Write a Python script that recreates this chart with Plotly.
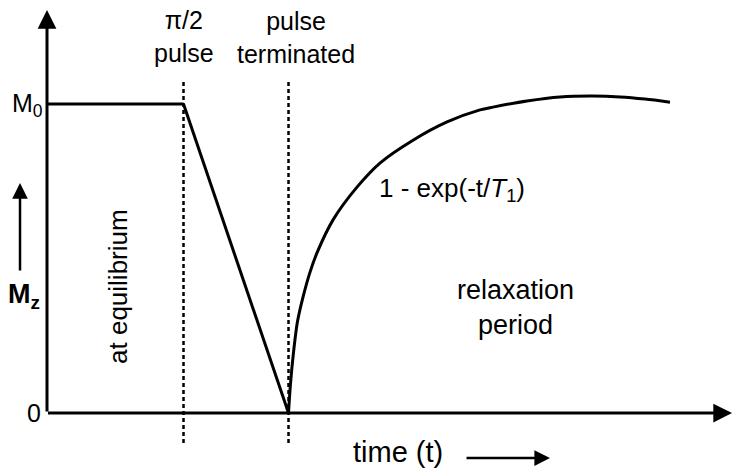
import plotly.graph_objects as go

# Longitudinal magnetisation Mz (in units of M0) versus time (arbitrary units)
eq_t = [0.0, 1.3]            # equilibrium before the pulse
eq_mz = [1.0, 1.0]
pulse_t = [1.3, 2.3]         # pi/2 pulse tips Mz down to zero
pulse_mz = [1.0, 0.0]
# relaxation back towards M0 after the pulse is switched off
relax_t = [2.30, 2.318, 2.345, 2.385, 2.438, 2.505, 2.571, 2.724, 2.952, 3.171,
           3.486, 3.810, 4.124, 4.248, 4.571, 4.886, 5.200, 5.457, 5.695, 5.933]
relax_mz = [0.0, 0.091, 0.188, 0.295, 0.375, 0.456, 0.518, 0.625, 0.731, 0.809,
            0.883, 0.942, 0.981, 0.990, 1.010, 1.023, 1.026, 1.023, 1.016, 1.006]
marker_times = [1.3, 2.3]    # pulse on / pulse off
marker_span = [-0.097, 1.078]

X_RANGE = [-0.4476, 6.533]
Y_RANGE = [-0.1812, 1.3366]
FONT = "Liberation Sans, Arial, sans-serif"
FS = 25

fig = go.Figure()
for t in marker_times:
    fig.add_trace(go.Scatter(x=[t, t], y=marker_span, mode="lines",
                             line=dict(color="black", width=2.5, dash="4px,3px")))
for xs, ys in [(eq_t, eq_mz), (pulse_t, pulse_mz)]:
    fig.add_trace(go.Scatter(x=xs, y=ys, mode="lines",
                             line=dict(color="black", width=3)))
fig.add_trace(go.Scatter(x=relax_t, y=relax_mz, mode="lines",
                         line=dict(color="black", width=3, shape="spline", smoothing=0.8)))

def arrow(x0, y0, x1, y1, w=2.5, size=1.2):
    fig.add_annotation(x=x1, y=y1, ax=x0, ay=y0, xref="x", yref="y", axref="x", ayref="y",
                       text="", showarrow=True, arrowhead=2, arrowsize=size,
                       arrowwidth=w, arrowcolor="black", standoff=0)

# axes
arrow(0, 0, 0, 1.304, w=3, size=1.25)
arrow(-0.005, 0, 6.524, 0, w=3, size=1.25)
# direction arrows next to the axis titles
arrow(-0.257, 0.456, -0.257, 0.744, w=2.5, size=1.25)
arrow(3.981, -0.146, 4.790, -0.146, w=2.5, size=1.25)

def label(x, y, text, size=FS, angle=0):
    fig.add_annotation(x=x, y=y, xref="x", yref="y", text=text, showarrow=False,
                       textangle=angle, font=dict(family=FONT, size=size, color="black"))

label(1.3, 1.220, "\u03c0/2<br>pulse")
label(2.376, 1.216, "pulse<br>terminated")
label(-0.190, 0.997, "M<sub>0</sub>")
label(-0.125, 0.0, "0")
label(-0.215, 0.379, "<b>M<sub>z</sub></b>", size=27)
label(0.676, 0.411, "at equilibrium", angle=-90, size=26)
label(3.857, 0.722, "1 - exp(-t/<i>T</i><sub>1</sub>)", size=26)
label(4.457, 0.343, "relaxation<br>period", size=27)
label(3.343, -0.126, "time (t)", size=29)

fig.update_layout(
    width=733, height=469, margin=dict(l=0, r=0, t=0, b=0),
    paper_bgcolor="white", plot_bgcolor="white", showlegend=False,
    xaxis=dict(range=X_RANGE, visible=False),
    yaxis=dict(range=Y_RANGE, visible=False),
)
fig.write_html("out.html")
